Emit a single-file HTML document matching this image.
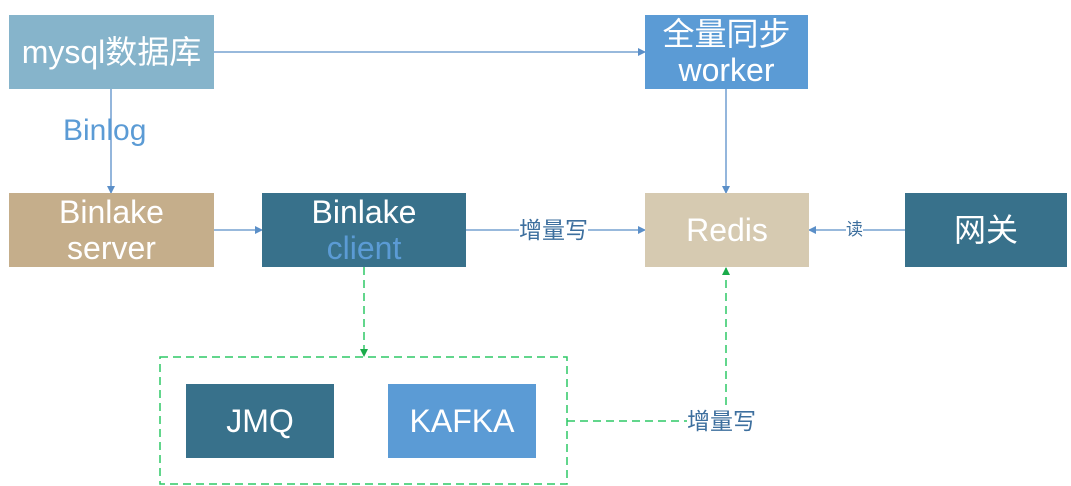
<!DOCTYPE html>
<html><head><meta charset="utf-8"><style>
body{margin:0;width:1071px;height:486px;background:#fff;position:relative;overflow:hidden;font-family:"Liberation Sans","Noto Sans CJK SC",sans-serif}
.b{position:absolute;color:#fff;display:flex;flex-direction:column;align-items:center;justify-content:center;text-align:center;line-height:36px;font-size:32px}
svg{position:absolute;left:0;top:0}
.t{position:absolute;font-size:23px;color:#3d6f9e;background:#fff;line-height:24px}
</style></head><body>
<svg width="1071" height="486">
<defs>
<marker id="a" markerWidth="8" markerHeight="8" refX="7" refY="4" orient="auto" markerUnits="userSpaceOnUse"><path d="M0,0 L8,4 L0,8z" fill="#5b8fc8"/></marker>
<marker id="g" markerWidth="8" markerHeight="8" refX="7" refY="4" orient="auto" markerUnits="userSpaceOnUse"><path d="M0,0 L8,4 L0,8z" fill="#1aab4a"/></marker>
</defs>
<g stroke="#5b8fc8" stroke-width="1.3" fill="none">
<line x1="214" y1="52" x2="645" y2="52" marker-end="url(#a)"/>
<line x1="111" y1="89" x2="111" y2="193" marker-end="url(#a)"/>
<line x1="726" y1="89" x2="726" y2="193" marker-end="url(#a)"/>
<line x1="214" y1="230" x2="262" y2="230" marker-end="url(#a)"/>
<line x1="466" y1="230" x2="645" y2="230" marker-end="url(#a)"/>
<line x1="905" y1="230" x2="809" y2="230" marker-end="url(#a)"/>
</g>
<g stroke="#2ec866" stroke-width="1.5" fill="none" stroke-dasharray="8,5">
<rect x="160" y="357" width="407" height="127"/>
<line x1="567" y1="421" x2="690" y2="421"/>
<line x1="364" y1="267" x2="364" y2="356" marker-end="url(#g)"/>
<line x1="726" y1="405" x2="726" y2="268" marker-end="url(#g)"/>
</g>
</svg>
<div class="b" style="left:9px;top:15px;width:205px;height:74px;background:#86b4cb">mysql数据库</div>
<div class="b" style="left:645px;top:15px;width:163px;height:74px;background:#5b9bd5">全量同步<br>worker</div>
<div class="b" style="left:9px;top:193px;width:205px;height:74px;background:#c5ae8b">Binlake<br>server</div>
<div class="b" style="left:262px;top:193px;width:204px;height:74px;background:#38718b">Binlake<br><span style="color:#5b9bd5">client</span></div>
<div class="b" style="left:645px;top:193px;width:164px;height:74px;background:#d6cab1">Redis</div>
<div class="b" style="left:905px;top:193px;width:162px;height:74px;background:#38718b">网关</div>
<div class="b" style="left:186px;top:384px;width:148px;height:74px;background:#38718b">JMQ</div>
<div class="b" style="left:388px;top:384px;width:148px;height:74px;background:#5b9bd5">KAFKA</div>
<div class="t" style="left:63px;top:116px;font-size:30px;line-height:30px;color:#5b9bd5;background:none">Binlog</div>
<div class="t" style="left:519px;top:218px">增量写</div>
<div class="t" style="left:846px;top:220px;font-size:17px;line-height:20px">读</div>
<div class="t" style="left:687px;top:409px">增量写</div>
</body></html>
